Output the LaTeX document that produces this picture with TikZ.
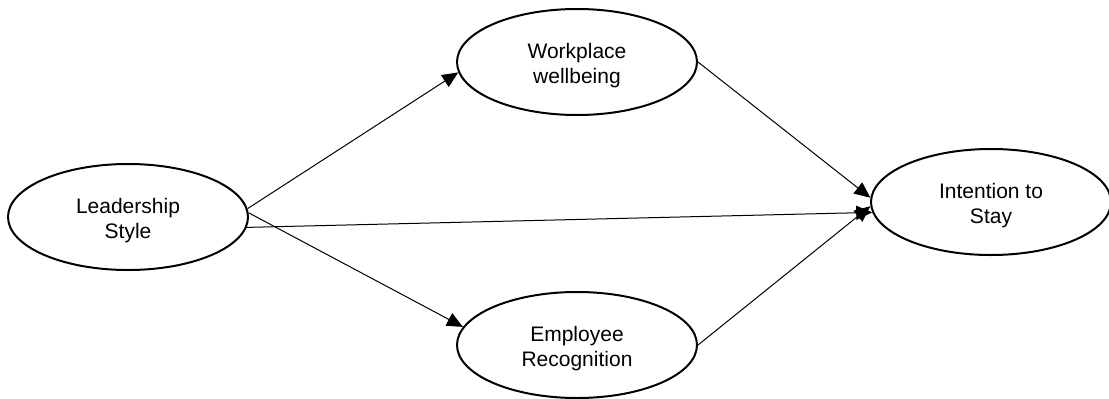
\documentclass[tikz,border=0pt]{standalone}
\usepackage{fontspec}
\setmainfont{Liberation Sans}
\usetikzlibrary{shapes.geometric,arrows.meta}
\begin{document}
\begin{tikzpicture}[x=1pt,y=-1pt,
  construct/.style={ellipse,draw,line width=2pt,minimum width=240pt,minimum height=106pt,
    inner sep=0pt,align=center,font=\fontsize{21}{25}\selectfont},
  link/.style={line width=1pt,-{Triangle[length=16pt,width=14pt]}}]
\useasboundingbox (0,0) rectangle (1109,399);
% constructs
\node[construct] (ls) at (128,217) {\rule{0pt}{22pt}Leadership\\Style};
\node[construct] (wb) at (577,62) {\rule{0pt}{22pt}Workplace\\wellbeing};
\node[construct] (er) at (577,345) {\rule{0pt}{22pt}Employee\\Recognition};
\node[construct] (is) at (991,202) {\rule{0pt}{22pt}Intention to\\Stay};
% hypothesised paths
\draw[link] (ls.4.3) -- (wb.185);
\draw[link] (ls.2.9) -- (er.171.5);
\draw[link] (ls.-5.7) -- (is.185.4);
\draw[link] (wb.east) -- (is.178);
\draw[link] (er.east) -- (is.182.5);
\end{tikzpicture}
\end{document}
